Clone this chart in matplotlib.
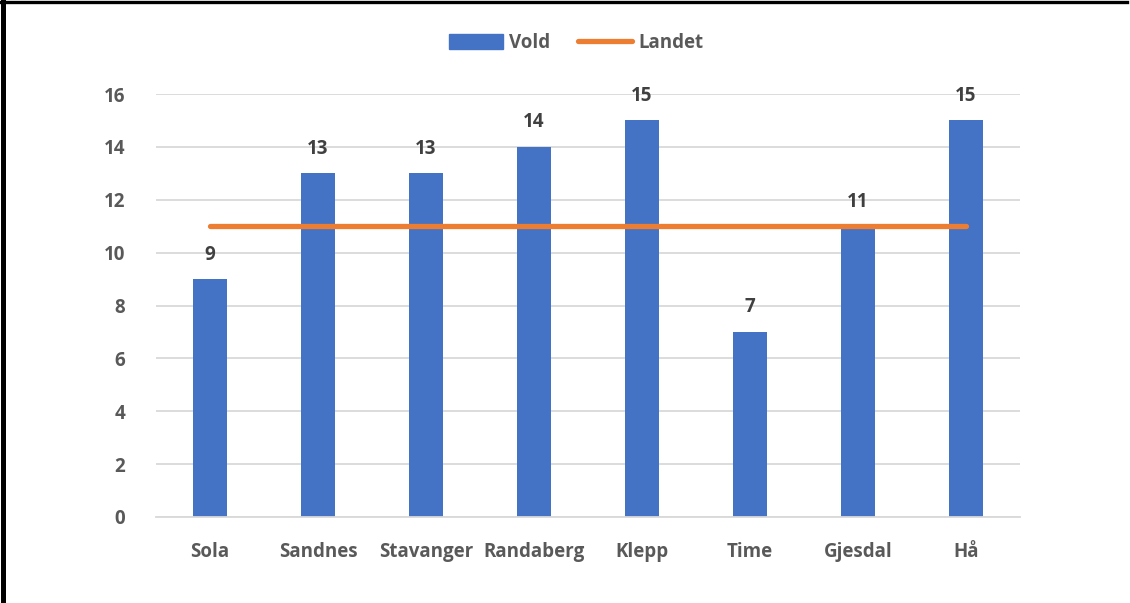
import matplotlib
matplotlib.use("Agg")
import matplotlib.pyplot as plt
from matplotlib.lines import Line2D
from matplotlib.patches import Patch

categories = ["Sola", "Sandnes", "Stavanger", "Randaberg", "Klepp", "Time", "Gjesdal", "Hå"]
vold = [9, 13, 13, 14, 15, 7, 11, 15]
landet = [11, 11, 11, 11, 11, 11, 11, 11]
yticks = [0, 2, 4, 6, 8, 10, 12, 14, 16]

plt.rcParams['font.family'] = ['Open Sans', 'DejaVu Sans']
W, H = 1130, 603
fig = plt.figure(figsize=(W/100, H/100), dpi=100)
ax = fig.add_axes([156/W, 1-517/H, (1020-156)/W, (517-94)/H])

FS = 13.5
x = list(range(len(categories)))
ax.bar(x, vold, width=0.31, color="#4472C4", zorder=2)
ax.plot(x, landet, color="#ED7D31", linewidth=3.8, solid_capstyle="round", zorder=3)

for xi, v in zip(x, vold):
    ax.text(xi, v + 0.55, str(v), ha="center", va="bottom", fontsize=FS,
            fontweight="bold", color="#404040", zorder=4)

ax.set_xlim(-0.5, len(categories) - 0.5)
ax.set_ylim(0, 16)
ax.set_yticks(yticks)
ax.set_xticks(x)
ax.set_xticklabels(categories)
ax.grid(axis="y", color="#D9D9D9", linewidth=1.3, zorder=0)
for s in ["top", "right", "left"]:
    ax.spines[s].set_visible(False)
ax.spines["bottom"].set_color("#D9D9D9")
ax.spines["bottom"].set_linewidth(1.3)
ax.tick_params(length=0, labelsize=FS, colors="#595959")
ax.tick_params(axis="x", pad=18)
ax.tick_params(axis="y", pad=22)
for lab in ax.get_xticklabels() + ax.get_yticklabels():
    lab.set_fontweight("bold")

handles = [Patch(color="#4472C4"), Line2D([], [], color="#ED7D31", linewidth=3.8, solid_capstyle="round")]
leg = fig.legend(handles, ["Vold", "Landet"], loc="center", bbox_to_anchor=(576/W, 1-43/H),
                 ncol=2, frameon=False, fontsize=FS, handlelength=2.9, handleheight=0.8,
                 columnspacing=1.5, handletextpad=0.3)
for t in leg.get_texts():
    t.set_fontweight("bold")
    t.set_color("#595959")

fig.add_artist(Line2D([3/W, 3/W], [0, 1], color="black", linewidth=3.6, transform=fig.transFigure))
fig.add_artist(Line2D([0, 1127/W], [1-1.5/H, 1-1.5/H], color="black", linewidth=2.4, transform=fig.transFigure))

fig.savefig("out.png", dpi=100, facecolor="white")
